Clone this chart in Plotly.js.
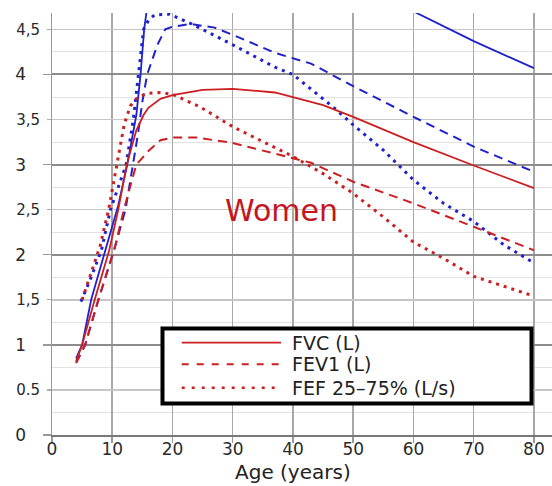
<!DOCTYPE html>
<html><head><meta charset="utf-8">
<script src="https://cdn.plot.ly/plotly-3.0.1.min.js"></script>
<style>html,body{margin:0;padding:0;background:#fff}#chart{width:552px;height:486px}</style>
</head><body><div id="chart"></div>
<script>
// ---- data ----
const womenFvcAge = [4, 5, 7, 9.5, 11, 12.4, 14, 15.2, 16, 18, 20, 25, 30, 37, 45, 50, 60, 70, 80];
const womenFvc    = [0.82, 1.0, 1.48, 2.05, 2.5, 3.0, 3.38, 3.55, 3.63, 3.73, 3.77, 3.83, 3.84, 3.80, 3.66, 3.53, 3.25, 2.99, 2.74];

const womenFev1Age = [4, 5.5, 7.7, 10.5, 12, 14, 16, 18, 20, 24, 30, 37, 43, 50, 60, 70, 80];
const womenFev1    = [0.8, 1.0, 1.5, 2.1, 2.52, 3.0, 3.15, 3.27, 3.3, 3.3, 3.24, 3.12, 3.02, 2.81, 2.57, 2.31, 2.05];

const womenFefAge = [5, 6.5, 8, 9.4, 10.8, 12, 13, 14.3, 16, 18, 20, 24.6, 30, 37, 40, 45, 50, 55, 60, 65, 70, 75, 80];
const womenFef    = [1.5, 1.8, 2.1, 2.5, 3.0, 3.45, 3.65, 3.75, 3.79, 3.8, 3.78, 3.64, 3.42, 3.19, 3.09, 2.9, 2.68, 2.42, 2.14, 1.96, 1.76, 1.65, 1.54];

const menFvcAge = [4, 5, 6.5, 9, 11, 12.5, 14, 14.7, 15.3, 16, 18, 20, 25, 30, 40, 50, 60, 70, 80];
const menFvc    = [0.85, 1.0, 1.5, 2.1, 2.55, 3.0, 3.55, 4.0, 4.5, 4.85, 5.2, 5.35, 5.45, 5.4, 5.25, 4.98, 4.70, 4.37, 4.07];

const menFev1Age = [4, 5.5, 7.7, 10.3, 12.2, 13.4, 14.3, 15, 15.8, 17.5, 18.8, 20, 23, 27, 30, 37, 43, 50, 60, 70, 80];
const menFev1    = [0.8, 1.0, 1.5, 2.05, 2.5, 3.0, 3.35, 3.7, 4.0, 4.33, 4.5, 4.53, 4.56, 4.52, 4.44, 4.24, 4.12, 3.87, 3.53, 3.2, 2.92];

const menFefAge = [4.8, 6.5, 8.2, 9.7, 11, 12.3, 13.5, 14.3, 15.2, 16, 17, 19.5, 23.5, 30, 37, 40, 47, 50, 55, 60, 65, 70, 75, 80];
const menFef    = [1.48, 1.75, 2.05, 2.5, 2.75, 3.0, 3.5, 4.0, 4.5, 4.6, 4.66, 4.67, 4.55, 4.33, 4.08, 4.0, 3.62, 3.44, 3.16, 2.83, 2.57, 2.37, 2.11, 1.91];

const xTicks = [0, 10, 20, 30, 40, 50, 60, 70, 80];
const yIntTicks = [0, 1, 2, 3, 4];
const yIntLabels = ['0', '1', '2', '3', '4'];
const yHalfTicks = [0.5, 1.5, 2.5, 3.5, 4.5];
const yHalfLabels = ['0.5', '1,5', '2,5', '3,5', '4,5'];
const yQuarterTicks = [0.25, 0.75, 1.25, 1.75, 2.25, 2.75, 3.25, 3.75, 4.25];
const legendLabels = ['FVC (L)', 'FEV1 (L)', 'FEF 25\u201375% (L/s)'];
const xTitle = 'Age (years)';
const groupLabel = 'Women';

// ---- styles ----
const RED = '#cc1f22', BLUE = '#1f22cc';
const FONT = 'DejaVu Sans, Liberation Sans, sans-serif';
const SOLID = {width: 1.8};
const DASH = {width: 2, dash: '9px,6px'};
const DOT = {width: 3, dash: '3px,5px'};

function tr(x, y, color, style, name) {
  return {x: x, y: y, type: 'scatter', mode: 'lines', name: name, showlegend: false,
          line: Object.assign({color: color}, style), hoverinfo: 'x+y+name'};
}

const data = [
  tr(menFvcAge, menFvc, BLUE, SOLID, 'Men FVC (L)'),
  tr(menFev1Age, menFev1, BLUE, DASH, 'Men FEV1 (L)'),
  tr(menFefAge, menFef, BLUE, DOT, 'Men FEF 25\u201375% (L/s)'),
  tr(womenFvcAge, womenFvc, RED, SOLID, 'Women FVC (L)'),
  tr(womenFev1Age, womenFev1, RED, DASH, 'Women FEV1 (L)'),
  tr(womenFefAge, womenFef, RED, DOT, 'Women FEF 25\u201375% (L/s)'),
  {x: [null], y: [null], yaxis: 'y2', type: 'scatter', mode: 'lines', showlegend: false, hoverinfo: 'skip'}
];

// manual legend (box + samples + labels), placed in paper coordinates
const legRowsY = [0.2187, 0.1675, 0.1121];
const legStyles = [SOLID, {width: 2, dash: '7px,8px'}, {width: 2.6, dash: '3px,7px'}];
const shapes = [{type: 'rect', xref: 'paper', yref: 'paper', x0: 0.221, x1: 0.959, y0: 0.0746, y1: 0.2524,
                 line: {color: '#000', width: 4}, fillcolor: '#fff', layer: 'above'}];
const annotations = [
  {x: 38.1, y: 2.49, xref: 'x', yref: 'y', text: groupLabel, showarrow: false,
   font: {family: FONT, size: 30, color: '#c4161e'}},
  {x: 40, y: -0.1195, xref: 'x', yref: 'paper', yanchor: 'bottom', text: xTitle, showarrow: false,
   borderpad: 0, font: {family: FONT, size: 20, color: '#222'}}
];
legendLabels.forEach((t, i) => {
  shapes.push({type: 'line', xref: 'paper', yref: 'paper', x0: 0.2594, x1: 0.458, y0: legRowsY[i], y1: legRowsY[i],
               line: Object.assign({color: RED}, legStyles[i]), layer: 'above'});
  annotations.push({xref: 'paper', yref: 'paper', x: 0.478, y: legRowsY[i], xanchor: 'left', yanchor: 'middle',
                    text: t, showarrow: false, borderpad: 0, font: {family: FONT, size: 19, color: '#222'}});
});

const layout = {
  width: 552, height: 486,
  margin: {l: 52, r: 0, t: 13, b: 51},
  paper_bgcolor: '#fff', plot_bgcolor: '#fff',
  showlegend: false,
  font: {family: FONT, color: '#2a2a2a'},
  xaxis: {
    range: [0, 83], tickmode: 'array', tickvals: xTicks,
    ticks: 'outside', ticklen: 6, tickcolor: '#999', tickwidth: 1.5, ticklabelstandoff: -8,
    showgrid: true, gridcolor: '#a8a8a8', gridwidth: 1.5,
    showline: true, linecolor: '#777', linewidth: 1.5, zeroline: false,
    tickfont: {family: FONT, size: 17, color: '#2a2a2a'}
  },
  yaxis: {
    range: [0, 4.682], tickmode: 'array', tickvals: yIntTicks, ticktext: yIntLabels,
    ticks: 'outside', ticklen: 8, tickcolor: '#999', tickwidth: 1.5, ticklabelstandoff: 13,
    showgrid: true, gridcolor: '#8c8c8c', gridwidth: 2,
    showline: true, linecolor: '#999', linewidth: 1.5, zeroline: false,
    tickfont: {family: FONT, size: 17, color: '#2a2a2a'},
    minor: {tickmode: 'array', tickvals: yQuarterTicks, showgrid: true, gridcolor: '#e2e2e2', gridwidth: 1, ticks: ''}
  },
  yaxis2: {
    overlaying: 'y', side: 'left', anchor: 'x',
    range: [0, 4.682], tickmode: 'array', tickvals: yHalfTicks, ticktext: yHalfLabels,
    ticks: 'outside', ticklen: 4, tickcolor: '#aaa', tickwidth: 1.2, ticklabelstandoff: 4,
    showgrid: true, gridcolor: '#c6c6c6', gridwidth: 1.5,
    showline: false, zeroline: false,
    tickfont: {family: FONT, size: 15, color: '#2a2a2a'}
  },
  shapes: shapes,
  annotations: annotations
};

Plotly.newPlot('chart', data, layout, {displayModeBar: false, staticPlot: true});
</script>
</body></html>
